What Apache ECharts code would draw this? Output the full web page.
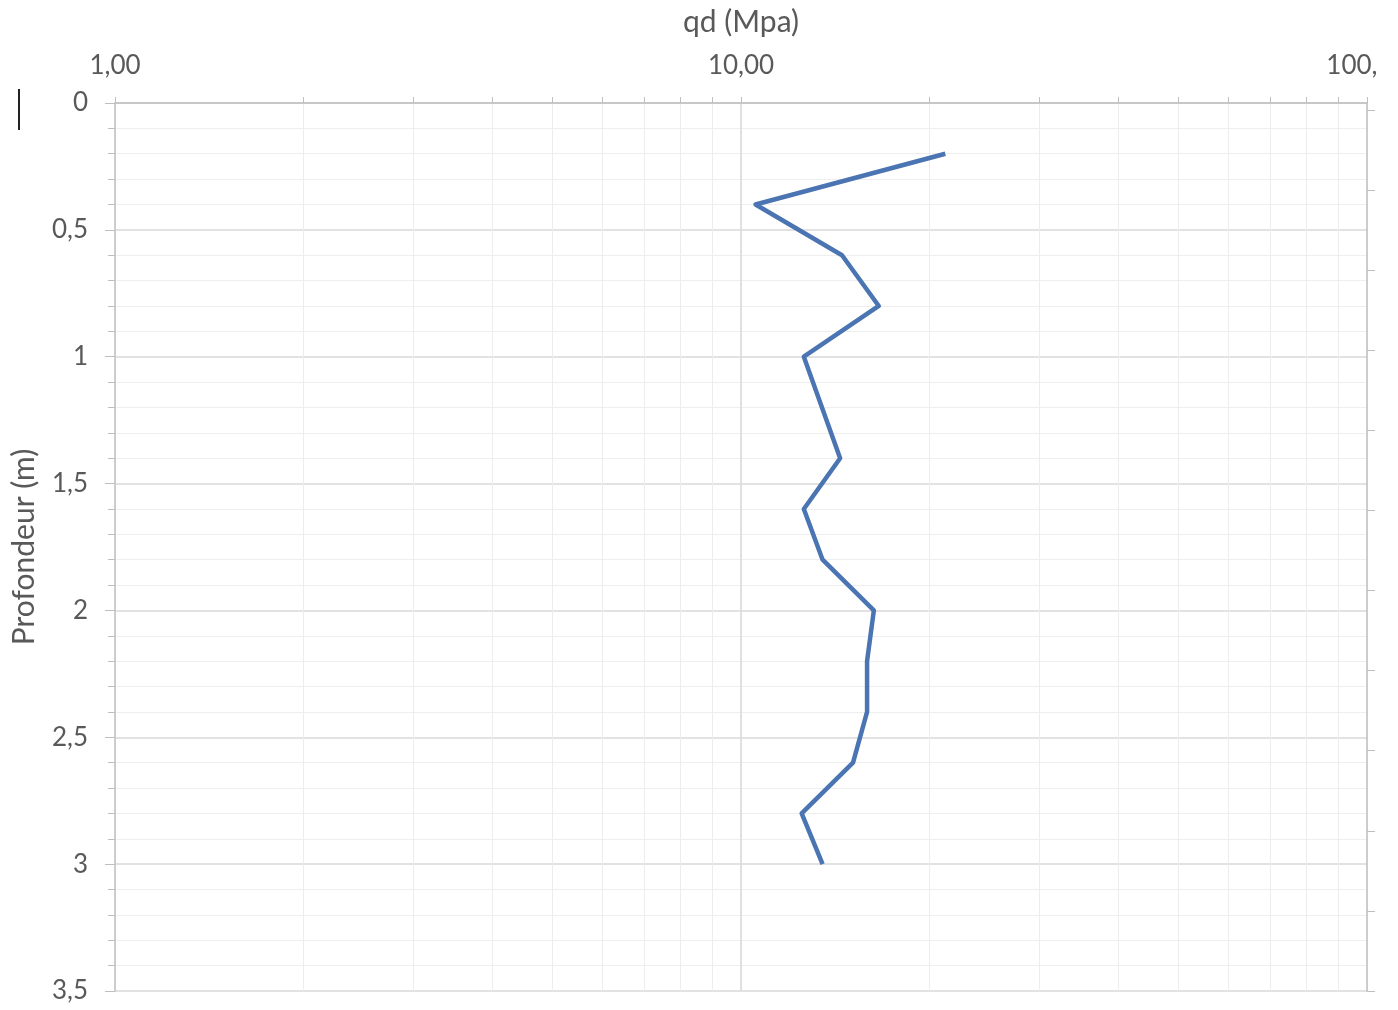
<!DOCTYPE html>
<html>
<head>
<meta charset="utf-8">
<script src="https://cdn.jsdelivr.net/npm/echarts@6/dist/echarts.min.js"></script>
<style>
html,body{margin:0;padding:0;background:#fff;}
#c{width:1377px;height:1010px;}
</style>
</head>
<body>
<div id="c"></div>
<script>
// Data
const depth = [0.2, 0.4, 0.6, 0.8, 1.0, 1.4, 1.6, 1.8, 2.0, 2.2, 2.4, 2.6, 2.8, 3.0];
const qd    = [21.2, 10.55, 14.5, 16.6, 12.6, 14.4, 12.6, 13.5, 16.3, 15.9, 15.9, 15.1, 12.5, 13.5];
const xTickValues  = [1,2,3,4,5,6,7,8,9,10,20,30,40,50,60,70,80,90,100];
const xLabelValues = [1, 10, 100];
const xMajorGrid   = [10];
const rightTicks   = [0.028, 0.343, 0.659, 0.975, 1.29, 1.606, 1.922, 2.237, 2.553, 2.869, 3.184, 3.5];

const TXT = '#595959';
const FONT = 'Lato';
const seriesData = depth.map((d, i) => [qd[i], d]);

const chart = echarts.init(document.getElementById('c'));
chart.setOption({
  animation: false,
  backgroundColor: '#ffffff',
  grid: { left: 115, right: 10, top: 103, bottom: 19, containLabel: false, outerBoundsMode: 'none' },
  xAxis: [{
    type: 'log', logBase: 10, min: 1, max: 100, position: 'top',
    name: 'qd (Mpa)', nameLocation: 'middle', nameGap: 66,
    nameTextStyle: { color: TXT, fontSize: 30, fontFamily: FONT },
    axisLine: { show: true, lineStyle: { color: '#bfbfbf', width: 1.5 } },
    axisTick: { show: true, inside: false, length: 6, customValues: xTickValues, lineStyle: { color: '#bfbfbf' } },
    axisLabel: { show: true, margin: 24, customValues: xLabelValues, color: TXT, fontSize: 26, fontFamily: FONT,
      formatter: v => Number(v).toFixed(2).replace('.', ',') },
    splitLine: { show: true, lineStyle: { color: '#ededed', width: 1 } }
  }, {
    type: 'log', logBase: 10, min: 1, max: 100, position: 'top',
    axisLine: { show: false },
    axisTick: { show: false, customValues: xMajorGrid },
    axisLabel: { show: false, customValues: xMajorGrid },
    splitLine: { show: true, lineStyle: { color: '#d9d9d9', width: 1.5 } }
  }],
  yAxis: [{
    type: 'value', inverse: true, min: 0, max: 3.5, interval: 0.5,
    name: 'Profondeur (m)', nameLocation: 'middle', nameGap: 76,
    nameTextStyle: { color: TXT, fontSize: 30, fontFamily: FONT },
    axisLine: { show: true, lineStyle: { color: '#bfbfbf', width: 1.5 } },
    axisTick: { show: true, inside: false, length: 10, lineStyle: { color: '#bfbfbf' } },
    minorTick: { show: true, splitNumber: 5, length: 7, lineStyle: { color: '#bfbfbf' } },
    axisLabel: { margin: 27, color: TXT, fontSize: 26, fontFamily: FONT,
      formatter: v => String(Math.round(v * 10) / 10).replace('.', ',') },
    splitLine: { show: true, lineStyle: { color: '#d9d9d9', width: 1.5 } },
    minorSplitLine: { show: true, lineStyle: { color: '#eeeeee', width: 1 } }
  }, {
    type: 'value', inverse: true, min: 0, max: 3.5, position: 'right',
    axisLine: { show: true, lineStyle: { color: '#bfbfbf', width: 1.5 } },
    axisTick: { show: true, inside: false, length: 8, customValues: rightTicks, lineStyle: { color: '#bfbfbf' } },
    axisLabel: { show: false },
    splitLine: { show: false }
  }],
  graphic: [{
    type: 'line', shape: { x1: 19, y1: 89, x2: 19, y2: 130 },
    style: { stroke: '#222', lineWidth: 2 }
  }],
  series: [{
    type: 'line', xAxisIndex: 0, yAxisIndex: 0,
    data: seriesData, showSymbol: false, symbol: 'none',
    lineStyle: { color: '#4a74b2', width: 4.5, join: 'round' },
    z: 5
  }]
});
</script>
</body>
</html>
